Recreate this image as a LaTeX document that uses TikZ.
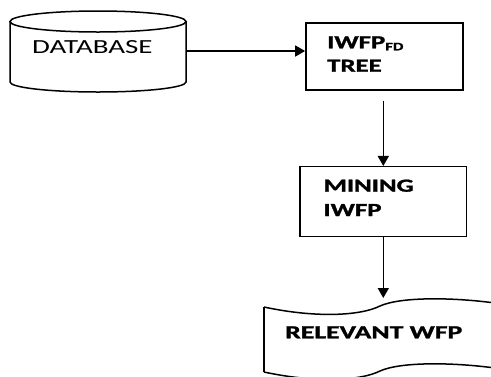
\documentclass[tikz,border=0pt]{standalone}
\usepackage{fontspec}
\usepackage{graphicx}
\setmainfont{Carlito}
\newfontfamily\heavy[FakeBold=1.2]{Carlito Bold}
\usetikzlibrary{arrows.meta}
\tikzset{
  box/.style={draw, line width=1.5pt, rectangle, inner sep=0pt},
  lbl/.style={inner sep=0pt, anchor=base west, font=\fontsize{18.5}{20}\selectfont},
  conn/.style={line width=1.5pt, -{Triangle[length=10pt,width=11pt]}},
  outline/.style={line width=1.5pt}
}
\newcommand{\wide}[1]{\scalebox{1.45}[1]{#1}}
\begin{document}
\begin{tikzpicture}[x=1pt,y=-1pt]
\useasboundingbox (0,0) rectangle (491,376);
% database cylinder
\draw[outline] (98,21.5) ellipse [x radius=88, y radius=10.5];
\draw[outline] (10,21.5) -- (10,82) arc[start angle=180, end angle=360, x radius=88, y radius=-10] -- (186,21.5);
\node[inner sep=0pt, minimum width=176pt, minimum height=58pt] (db) at (98,51) {};
\node[lbl, font=\fontsize{20}{22}\selectfont] (dbt) at (32,53.3) {\scalebox{1.45}[1]{DATABASE}};
% IWFP tree box
\node[box, minimum width=157pt, minimum height=67pt] (iwfp) at (384.4,56.4) {};
\node[lbl] (iwfpt) at (327,48.3) {\wide{\heavy IWFP\raisebox{-2pt}{\fontsize{11.5}{12}\selectfont FD}}};
\node[lbl] (tree) at (327,71.7) {\wide{\heavy TREE}};
% mining box
\node[box, minimum width=166.7pt, minimum height=70pt] (mining) at (383.3,201.7) {};
\node[lbl] (mint) at (323.3,191.7) {\wide{\heavy MINING}};
\node[lbl] (mint2) at (323.3,216) {\wide{\heavy IWFP}};
% document shape
\draw[outline] (264,307) .. controls (315,318) and (360,316) .. (380,306)
  .. controls (400,297) and (450,297) .. (495,303);
\draw[outline] (264,307) -- (264,372);
\draw[outline] (264,372) .. controls (315,383) and (360,381) .. (380,371)
  .. controls (400,362) and (450,362) .. (495,368);
\coordinate (doc) at (383.3,298);
\node[lbl] (rel) at (285,338.3) {\scalebox{1.5}[1]{\heavy RELEVANT WFP}};
% connectors
\draw[conn] (db.east) -- (db.east -| iwfp.west);
\coordinate (iwfpin) at ([yshift=-10pt]iwfp.south -| mining.north);
\draw[conn] (iwfpin) -- (mining.north);
\draw[conn] (mining.south) -- (doc);
\end{tikzpicture}
\end{document}
